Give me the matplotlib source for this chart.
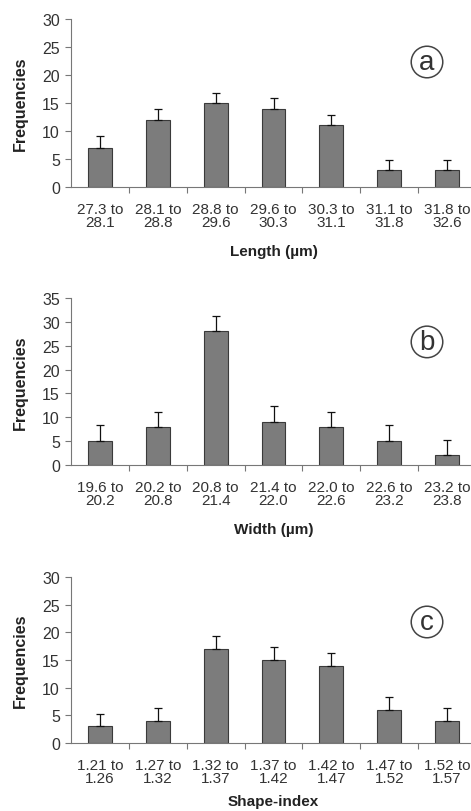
import matplotlib
matplotlib.use('Agg')
import matplotlib.pyplot as plt
import numpy as np

plt.rcParams['font.family'] = ['Liberation Sans', 'DejaVu Sans']

# panel a - length
lengthBins = ['27.3 to\n28.1', '28.1 to\n28.8', '28.8 to\n29.6', '29.6 to\n30.3',
              '30.3 to\n31.1', '31.1 to\n31.8', '31.8 to\n32.6']
lengthFreq = [7, 12, 15, 14, 11, 3, 3]
lengthErr = [2.1, 2.0, 1.8, 1.9, 1.8, 1.8, 1.8]

# panel b - width
widthBins = ['19.6 to\n20.2', '20.2 to\n20.8', '20.8 to\n21.4', '21.4 to\n22.0',
             '22.0 to\n22.6', '22.6 to\n23.2', '23.2 to\n23.8']
widthFreq = [5, 8, 28, 9, 8, 5, 2]
widthErr = [3.3, 3.2, 3.3, 3.3, 3.2, 3.3, 3.2]

# panel c - shape index
shapeBins = ['1.21 to\n1.26', '1.27 to\n1.32', '1.32 to\n1.37', '1.37 to\n1.42',
             '1.42 to\n1.47', '1.47 to\n1.52', '1.52 to\n1.57']
shapeFreq = [3, 4, 17, 15, 14, 6, 4]
shapeErr = [2.3, 2.4, 2.4, 2.3, 2.3, 2.3, 2.4]

W, H = 471, 812
fig = plt.figure(figsize=(W/100., H/100.), dpi=100)

def px_axes(top, bottom, left=71, right=476):
    return fig.add_axes([left/W, 1-bottom/H, (right-left)/W, (bottom-top)/H])

def panel(ax, labels, freq, err, ymax, xlab, letter, letterY, xlabY=-0.34):
    idx = np.arange(len(freq))
    ax.bar(idx, freq, width=0.41, color='#7c7c7c', edgecolor='#3a3a3a', linewidth=0.8, zorder=2)
    ax.errorbar(idx, freq, yerr=[np.zeros(len(err)), err], fmt='none',
                ecolor='#111111', elinewidth=0.9, capsize=3, capthick=0.9, zorder=3)
    ax.set_xlim(-0.5, len(freq)-0.5)
    ax.set_ylim(0, ymax)
    ax.set_yticks(np.arange(0, ymax+1, 5))
    ax.set_xticks(idx)
    ax.set_xticklabels(labels, linespacing=0.85)
    ax.set_xticks(np.arange(0.5, len(freq)-1, 1.0), minor=True)
    ax.tick_params(axis='x', which='major', length=0, pad=11, labelsize=11, labelcolor='#333333')
    ax.tick_params(axis='x', which='minor', length=4, width=0.8, color='#777777', direction='out')
    ax.tick_params(axis='y', length=4, width=0.8, color='#777777', pad=4, labelsize=11.5, labelcolor='#333333')
    for s in ['top', 'right']:
        ax.spines[s].set_visible(False)
    for s in ['left', 'bottom']:
        ax.spines[s].set_color('#777777')
        ax.spines[s].set_linewidth(0.8)
    ax.set_ylabel('Frequencies', fontsize=11.5, fontweight='bold', color='#222222')
    ax.yaxis.set_label_coords(-0.106, 0.5)
    ax.set_xlabel(xlab, fontsize=11, fontweight='bold', color='#222222')
    ax.xaxis.set_label_coords(0.5, xlabY)
    ax.text(0.879, letterY, letter, transform=ax.transAxes, ha='center', va='center',
            fontsize=20, color='#333333',
            bbox=dict(boxstyle='circle,pad=0.1', fc='none', ec='#444444', lw=1.1))

axA = px_axes(20, 188)
panel(axA, lengthBins, lengthFreq, lengthErr, 30, 'Length (µm)', 'a', 0.744)

axB = px_axes(299, 466)
panel(axB, widthBins, widthFreq, widthErr, 35, 'Width (µm)', 'b', 0.737)

axC = px_axes(578, 744)
panel(axC, shapeBins, shapeFreq, shapeErr, 30, 'Shape-index', 'c', 0.729, xlabY=-0.31)

fig.savefig('out.png', dpi=100)
